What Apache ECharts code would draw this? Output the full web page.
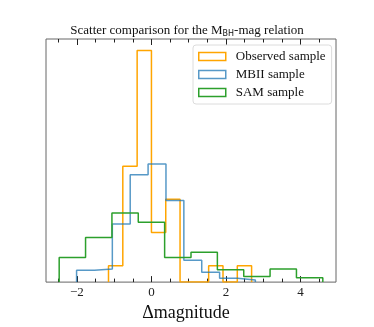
<!DOCTYPE html>
<html>
<head>
<meta charset="utf-8">
<script src="https://cdn.jsdelivr.net/npm/echarts@6/dist/echarts.min.js"></script>
<style>
  html, body { margin: 0; padding: 0; background: #fff; }
  #chart { width: 374px; height: 327px; }
</style>
</head>
<body>
<div id="chart"></div>
<script>
// histogram bin edges and normalised heights (density)
const obsEdges = [-1.153, -0.769, -0.384, 0.000, 0.384, 0.768, 1.152, 1.536, 1.921, 2.305, 2.689]
const obsDensity = [0.081, 0.570, 1.139, 0.244, 0.407, 0, 0, 0.081, 0, 0.081]

const mbiiEdges = [-2.01, -1.53, -1.05, -0.57, -0.09, 0.39, 0.87, 1.35, 1.83, 2.31, 2.79]
const mbiiDensity = [0.058, 0.064, 0.286, 0.528, 0.581, 0.402, 0.107, 0.048, 0.019, 0.010]

const samEdges = [-2.477, -1.769, -1.061, -0.354, 0.354, 1.062, 1.770, 2.478, 3.185, 3.893, 4.601]
const samDensity = [0.121, 0.219, 0.340, 0.295, 0.121, 0.147, 0.061, 0.028, 0.064, 0.021]

const seriesNames = ['Observed sample', 'MBII sample', 'SAM sample']
const seriesColors = ['#ffa500', 'rgba(31, 119, 180, 0.75)', '#2ca02c']

const majorTicks = [-2, 0, 2, 4]
const minorTicks = [-2.5, -1.5, -1, -0.5, 0.5, 1, 1.5, 2.5, 3, 3.5, 4.5]

const xMin = -2.831
const xMax = 4.955
const yMax = 1.196

const serif = 'Liberation Serif'

// outline of a step histogram: up from the baseline, across each bin, back down
function stepOutline(edges, heights) {
  const pts = [[edges[0], 0]]
  heights.forEach((h, i) => {
    pts.push([edges[i], h])
    pts.push([edges[i + 1], h])
  })
  pts.push([edges[edges.length - 1], 0])
  return pts
}

function tickAxis(position, values, len, showLabel) {
  return {
    type: 'value',
    position: position,
    min: xMin,
    max: xMax,
    axisLine: { show: false },
    splitLine: { show: false },
    axisTick: {
      show: true,
      inside: true,
      length: len,
      customValues: values,
      lineStyle: { color: '#222', width: 1 }
    },
    axisLabel: showLabel ? {
      show: true,
      customValues: values,
      margin: 4,
      fontFamily: serif,
      fontSize: 13,
      color: '#222',
      formatter: v => (v < 0 ? '\u2212' + Math.abs(v) : String(v))
    } : { show: false }
  }
}

const myChart = echarts.init(document.getElementById('chart'), null, { renderer: 'canvas' })

const xMain = tickAxis('bottom', majorTicks, 6, true)
xMain.name = '\u0394magnitude'
xMain.nameLocation = 'middle'
xMain.nameGap = 20
xMain.nameTextStyle = { fontFamily: serif, fontSize: 18, color: '#111', padding: [0, 10, 0, 0] }

const data = [
  stepOutline(obsEdges, obsDensity),
  stepOutline(mbiiEdges, mbiiDensity),
  stepOutline(samEdges, samDensity)
]

const option = {
  backgroundColor: '#fff',
  animation: false,
  title: {
    text: 'Scatter comparison for the M{sub|BH}-mag relation',
    left: 'center',
    top: 19,
    textStyle: {
      fontFamily: serif,
      fontSize: 13,
      fontWeight: 'normal',
      color: '#111',
      rich: {
        sub: { fontFamily: 'DejaVu Sans', fontSize: 8, color: '#111', padding: [6, 0, 0, 0] }
      }
    }
  },
  legend: {
    orient: 'vertical',
    left: 193,
    top: 45,
    padding: [5, 6, 5, 5],
    backgroundColor: '#fff',
    borderColor: '#dcdcdc',
    borderWidth: 1,
    borderRadius: 3,
    itemWidth: 27,
    itemHeight: 8,
    itemGap: 5,
    textStyle: { fontFamily: serif, fontSize: 13, color: '#111', padding: [0, 0, 0, 5] },
    data: seriesNames.map((n, i) => ({
      name: n,
      icon: 'rect',
      itemStyle: { color: 'rgba(0,0,0,0)', borderColor: seriesColors[i], borderWidth: 1.5 }
    }))
  },
  grid: {
    show: true,
    left: 46,
    right: 38,
    top: 39,
    bottom: 41,
    borderColor: '#666',
    borderWidth: 1,
    backgroundColor: 'transparent'
  },
  xAxis: [
    xMain,
    tickAxis('bottom', minorTicks, 3.5, false),
    tickAxis('top', majorTicks, 6, false),
    tickAxis('top', minorTicks, 3.5, false)
  ],
  yAxis: {
    type: 'value',
    min: 0,
    max: yMax,
    axisLine: { show: false },
    axisTick: { show: false },
    axisLabel: { show: false },
    splitLine: { show: false }
  },
  series: seriesNames.map((n, i) => ({
    name: n,
    type: 'line',
    xAxisIndex: 0,
    data: data[i],
    symbol: 'none',
    lineStyle: { color: seriesColors[i], width: 1.5 },
    itemStyle: { color: seriesColors[i] }
  }))
}

myChart.setOption(option)
window.addEventListener('resize', () => {
  myChart.resize()
}, false)
</script>
</body>
</html>
